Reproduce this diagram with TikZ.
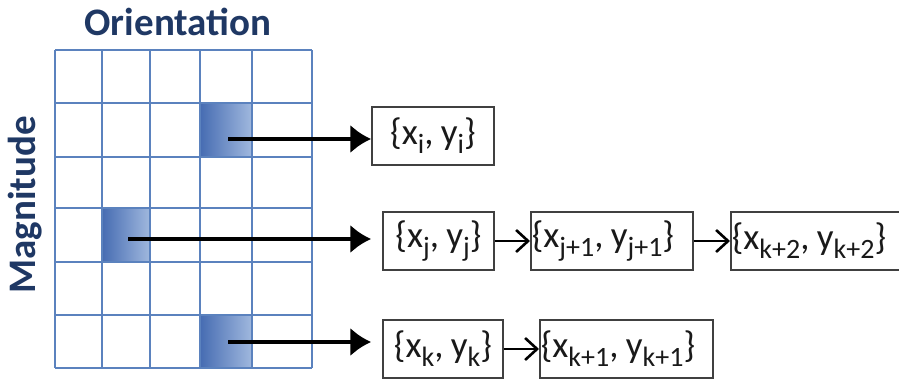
\documentclass[tikz,border=0pt]{standalone}
\usepackage{fontspec}
\setmainfont{Carlito}
\usetikzlibrary{arrows.meta}

\definecolor{gridblue}{RGB}{91,130,190}
\definecolor{cellblue}{RGB}{70,108,178}
\definecolor{celllight}{RGB}{160,184,222}
\definecolor{titlenavy}{RGB}{31,56,100}

\newcommand{\lowsub}[1]{\raisebox{-0.25em}{\fontsize{28}{28}\selectfont #1}}
\newcommand{\xypair}[1]{\{x\lowsub{#1},\hspace{0.2em}y\lowsub{#1}\}}
\newcommand{\leftpair}[2]{\makebox[#1][l]{\xypair{#2}}}

\begin{document}
\begin{tikzpicture}[
  x=1pt, y=-1pt,
  pairbox/.style={draw=black!75, line width=1.5pt, inner sep=0pt,
                  minimum height=58pt, text=black!90,
                  font=\fontsize{37}{40}\selectfont},
  chainbox/.style={pairbox, anchor=west, inner xsep=1pt},
  hotcell/.style={left color=cellblue, right color=celllight, draw=none},
  bigarrow/.style={line width=4pt, -{Latex[length=21pt,width=29pt]}},
  smallarrow/.style={line width=2.6pt, -{Straight Barb[length=12pt,width=22pt,line width=2.6pt]}},
  axislabel/.style={font=\fontsize{39}{44}\selectfont\bfseries, text=titlenavy}
]
\useasboundingbox (0,0) rectangle (899,380);

% highlighted cells
\fill[hotcell] (200,103) rectangle (252,157);
\fill[hotcell] (102,208) rectangle (150,262);
\fill[hotcell] (200,315) rectangle (252,368);

% grid
\foreach \gx in {55,102,150,200,252,312}
  \draw[gridblue, line width=2.8pt] (\gx,50) -- (\gx,368);
\foreach \gy in {50,103,157,208,262,315,368}
  \draw[gridblue, line width=2.8pt] (55,\gy) -- (312,\gy);

% axis labels
\node[axislabel] (orient) at (178,22) {Orientation};
\node[axislabel, rotate=90] (magn) at (25,205) {Magnitude};

% start points in the cells
\coordinate (ci) at (228,139);
\coordinate (cj) at (128,239);
\coordinate (ck) at (228,342);

% lists
\node[pairbox, minimum width=122pt] (pi) at (433,136) {\xypair{i}};
\node[pairbox, minimum width=111pt] (pj) at (438.5,241) {\xypair{j}};
\node[chainbox] (pj1) at (530,241) {\leftpair{160pt}{j+1}};
\node[chainbox] (pk2) at (730,241) {\leftpair{173pt}{k+2}};
\node[pairbox, minimum width=120pt] (pk) at (443,349) {\xypair{k}};
\node[chainbox] (pk1) at (539,349) {\leftpair{171pt}{k+1}};

\draw[bigarrow] (ci) -- (ci -| pi.west);
\draw[bigarrow, shorten >=11pt] (cj) -- (cj -| pj.west);
\draw[bigarrow, shorten >=11pt] (ck) -- (ck -| pk.west);
\draw[smallarrow] (pj.east) -- (pj1.west);
\draw[smallarrow] (pj1.east) -- (pk2.west);
\draw[smallarrow] (pk.east) -- (pk1.west);
\end{tikzpicture}
\end{document}
